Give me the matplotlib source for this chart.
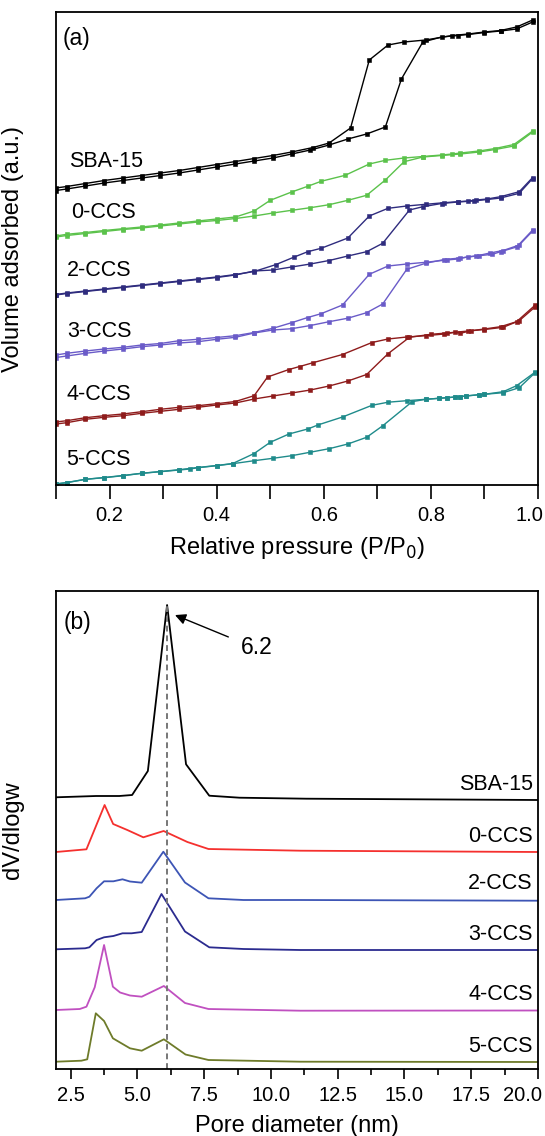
import matplotlib
matplotlib.use('Agg')
import matplotlib.pyplot as plt
from matplotlib.transforms import ScaledTranslation
import numpy as np

plt.rcParams['font.family'] = ['Liberation Sans', 'DejaVu Sans']

# ---------- (a) N2 isotherms, volume in arbitrary units ----------
sba_ads_p = [0.10, 0.12, 0.155, 0.19, 0.225, 0.26, 0.295, 0.33, 0.365, 0.40, 0.435, 0.47, 0.505, 0.54,
             0.575, 0.61, 0.645, 0.68, 0.715, 0.745, 0.785, 0.82, 0.85, 0.87, 0.90, 0.93, 0.96, 0.99]
sba_ads_v = [294.5, 296, 299, 302, 304.5, 307, 309.5, 312, 315, 318, 321, 324, 327, 331,
             335, 340, 346, 351, 358, 406, 443, 448, 449.5, 450.5, 452.5, 454, 456, 463]
sba_des_p = [0.99, 0.96, 0.93, 0.90, 0.87, 0.84, 0.79, 0.75, 0.72, 0.685, 0.65, 0.61, 0.58, 0.54,
             0.505, 0.47, 0.435, 0.40, 0.365, 0.33, 0.295, 0.26, 0.225, 0.19, 0.155, 0.12, 0.10]
sba_des_v = [465, 458, 454.5, 453, 451, 449.5, 445, 443, 440, 425, 357, 342, 337.5, 333,
             329.5, 326.5, 323.5, 320.5, 317.5, 314.5, 312, 309.5, 307, 304.5, 301.5, 298.5, 297]

c0_ads_p = [0.10, 0.12, 0.155, 0.19, 0.225, 0.26, 0.295, 0.33, 0.365, 0.40, 0.435, 0.47, 0.505, 0.54,
            0.575, 0.61, 0.645, 0.68, 0.715, 0.75, 0.785, 0.82, 0.855, 0.89, 0.92, 0.955, 0.99]
c0_ads_v = [248, 249.5, 251.5, 253.5, 255.5, 257, 259, 261, 263, 264.5, 266.5, 269, 272, 274.7,
            277.3, 280.3, 284.7, 289.7, 305, 323.3, 328, 329.5, 331, 333, 335.5, 339, 353]
c0_des_p = [0.99, 0.955, 0.92, 0.89, 0.855, 0.84, 0.82, 0.785, 0.75, 0.715, 0.685, 0.64, 0.595, 0.57,
            0.54, 0.50, 0.47, 0.435, 0.40, 0.365, 0.33, 0.295, 0.26, 0.225, 0.19, 0.155, 0.12, 0.10]
c0_des_v = [354, 340.5, 336.5, 334, 332, 331, 330, 328.5, 327, 324.7, 321, 309.7, 303.7, 298.7,
            293, 284.7, 274, 268, 266, 264, 262, 260, 258, 256.3, 254.5, 252.5, 250.7, 249]

c2_ads_p = [0.10, 0.12, 0.155, 0.19, 0.225, 0.26, 0.295, 0.33, 0.365, 0.40, 0.435, 0.47, 0.505, 0.54,
            0.575, 0.61, 0.645, 0.68, 0.71, 0.76, 0.785, 0.82, 0.85, 0.88, 0.905, 0.93, 0.965, 0.99]
c2_ads_v = [190, 191.5, 193.5, 195.5, 197.5, 199.5, 201.5, 203.5, 205.5, 207.5, 210, 214, 215, 218,
            221, 224.5, 229, 233.3, 241.7, 275, 278.3, 281.5, 283, 284, 285.5, 287, 291.7, 306.5]
c2_des_p = [0.99, 0.965, 0.93, 0.905, 0.885, 0.87, 0.85, 0.825, 0.79, 0.755, 0.72, 0.685, 0.645, 0.595,
            0.57, 0.545, 0.51, 0.47, 0.435, 0.40, 0.365, 0.33, 0.295, 0.26, 0.225, 0.19, 0.155, 0.12, 0.10]
c2_des_v = [307.5, 293.3, 288.3, 286, 285, 284, 283.3, 282.3, 280.7, 279, 276.7, 269, 247, 236.7,
            233.3, 228, 220.3, 213.5, 210.5, 208, 206, 204, 202, 200, 198, 196, 194, 192, 190.5]

c3_ads_p = [0.10, 0.12, 0.155, 0.19, 0.225, 0.26, 0.295, 0.33, 0.365, 0.40, 0.435, 0.47, 0.505, 0.54,
            0.575, 0.61, 0.645, 0.68, 0.71, 0.755, 0.79, 0.825, 0.855, 0.885, 0.91, 0.935, 0.965, 0.99]
c3_ads_v = [127.5, 129, 131.7, 134, 136, 138.3, 140, 142, 143.3, 145.7, 147.7, 152, 155, 156.3,
            159.5, 163.3, 166.8, 172.3, 181, 215.7, 221.7, 225.5, 227, 229, 232, 234.5, 240, 254]
c3_des_p = [0.99, 0.96, 0.93, 0.915, 0.89, 0.87, 0.85, 0.83, 0.79, 0.755, 0.72, 0.685, 0.635, 0.595,
            0.57, 0.54, 0.505, 0.47, 0.435, 0.40, 0.365, 0.33, 0.295, 0.26, 0.225, 0.19, 0.155, 0.12, 0.10]
c3_des_v = [255, 238, 233.3, 230.7, 229.3, 228.3, 226, 225, 222.7, 221, 219, 210.7, 180, 171.3,
            167.5, 162.3, 156.7, 152.5, 149.3, 147.5, 145.7, 144.3, 141.5, 140, 137.7, 136, 134, 131.7, 130]

c4_ads_p = [0.10, 0.12, 0.155, 0.19, 0.225, 0.26, 0.295, 0.33, 0.365, 0.40, 0.435, 0.47, 0.505, 0.54,
            0.575, 0.61, 0.645, 0.68, 0.72, 0.76, 0.80, 0.83, 0.87, 0.90, 0.935, 0.965, 0.995]
c4_ads_v = [61, 62.3, 65.7, 67.7, 69.3, 71.7, 73.7, 75.7, 77.7, 80, 82, 86, 89, 92,
            95, 99, 104, 110.5, 131.3, 147.7, 150.7, 152, 154, 155.5, 157.7, 164.3, 178.3]
c4_des_p = [0.995, 0.96, 0.93, 0.90, 0.875, 0.855, 0.845, 0.825, 0.79, 0.755, 0.72, 0.69, 0.635, 0.58,
            0.555, 0.535, 0.495, 0.47, 0.435, 0.40, 0.365, 0.33, 0.295, 0.26, 0.225, 0.19, 0.155, 0.12, 0.10]
c4_des_v = [180, 163.3, 158.3, 156, 154.3, 151.7, 152.7, 151, 149.3, 148, 146, 142.5, 130.5, 122.3,
            118.5, 115.5, 108, 89.3, 83.5, 81.3, 79.3, 77.7, 75.7, 73.3, 71, 69.3, 67.3, 64.3, 63]

c5_ads_p = [0.10, 0.12, 0.155, 0.19, 0.225, 0.26, 0.295, 0.33, 0.35, 0.365, 0.40, 0.43, 0.47, 0.505,
            0.54, 0.575, 0.61, 0.645, 0.68, 0.71, 0.765, 0.79, 0.815, 0.83, 0.845, 0.855, 0.865, 0.89,
            0.90, 0.935, 0.965, 0.995]
c5_ads_v = [1, 2.3, 5.7, 7.3, 9.3, 11.7, 13.3, 15, 16, 17.3, 19.3, 21.3, 24.3, 26.7,
            29.3, 32.8, 36.3, 41, 47.7, 59.2, 83.3, 85.7, 86.7, 87.3, 88, 88.3, 89, 90.3,
            90.7, 92.3, 97.3, 112.5]
c5_des_p = [0.995, 0.96, 0.935, 0.90, 0.89, 0.865, 0.855, 0.845, 0.83, 0.815, 0.79, 0.755, 0.72, 0.69,
            0.635, 0.59, 0.57, 0.535, 0.50, 0.47, 0.43, 0.40, 0.365, 0.33, 0.295, 0.26, 0.225, 0.19,
            0.155, 0.12, 0.10]
c5_des_v = [113, 99.3, 93.3, 90.7, 90.3, 89, 88.3, 88, 87.3, 86.7, 85.7, 84.3, 82.8, 79.7,
            68, 60.2, 56, 51, 42.7, 31.5, 21.5, 19.5, 17.5, 15.3, 13.5, 11.7, 9.5, 7.5,
            5.7, 2.5, 1]

iso_names = ['SBA-15', '0-CCS', '2-CCS', '3-CCS', '4-CCS', '5-CCS']
iso_colors = ['#000000', '#5bc24b', '#2f2c7e', '#6a5bc8', '#8e1b1b', '#1f8b8b']
iso_label_p = [0.125, 0.129, 0.121, 0.121, 0.119, 0.119]
iso_label_v = [318, 267, 209, 148, 85, 20]

# ---------- (b) pore size distributions ----------
sba_d = [1.95, 3.45, 4.32, 4.80, 5.39, 6.11, 6.82, 7.69, 8.82, 11.32, 20.0]
sba_dv = [271.7, 273, 273, 274, 298, 464, 304.7, 273.3, 271.3, 270.3, 269]
c0_d = [1.95, 3.09, 3.77, 4.09, 4.62, 5.22, 5.98, 6.87, 7.66, 11.1, 20.0]
c0_dv = [217, 219.7, 264, 245, 239, 231.7, 238, 227, 220, 218.3, 217]
c2_d = [1.95, 3.04, 3.20, 3.47, 3.75, 4.10, 4.44, 4.72, 5.16, 5.97, 6.78, 7.66, 8.97, 11.1, 20.0]
c2_dv = [169, 170.7, 172.3, 180.7, 187.7, 187.7, 189.7, 187.5, 186.3, 217.3, 186.5, 170.7, 169, 169, 168.3]
c3_d = [1.95, 3.04, 3.20, 3.47, 3.75, 4.10, 4.44, 4.78, 5.16, 5.90, 6.78, 7.69, 8.97, 11.1, 20.0]
c3_dv = [119.7, 120.7, 121.7, 129, 131.7, 133, 135.7, 135.7, 137, 175, 137.5, 121.7, 120, 119, 119]
c4_d = [1.95, 2.84, 3.09, 3.40, 3.75, 4.08, 4.35, 4.72, 5.16, 5.99, 6.78, 7.66, 11.1, 20.0]
c4_dv = [59, 60, 62.3, 81.7, 124, 82.3, 76.5, 73.5, 72.3, 83, 66, 60, 58.3, 58.5]
c5_d = [1.95, 2.90, 3.12, 3.44, 3.75, 4.08, 4.72, 5.16, 5.99, 6.80, 7.66, 11.1, 20.0]
c5_dv = [7.3, 8.3, 9.7, 55.7, 48, 30.7, 20.7, 18.3, 29.7, 14.5, 9, 7.3, 7]

psd_colors = ['#000000', '#f5302e', '#3d55b5', '#2b2b8f', '#c050c0', '#6e7b2a']
psd_label_v = [279, 227, 180, 129, 69, 17]

fig = plt.figure(figsize=(5.45, 11.36), dpi=100)
W, H = 545.0, 1136.0
ax1 = fig.add_axes([56 / W, 1 - 485 / H, 482 / W, 473 / H])
ax2 = fig.add_axes([56 / W, 1 - 1069 / H, 482 / W, 478 / H])

isotherms = [(sba_ads_p, sba_ads_v, sba_des_p, sba_des_v),
             (c0_ads_p, c0_ads_v, c0_des_p, c0_des_v),
             (c2_ads_p, c2_ads_v, c2_des_p, c2_des_v),
             (c3_ads_p, c3_ads_v, c3_des_p, c3_des_v),
             (c4_ads_p, c4_ads_v, c4_des_p, c4_des_v),
             (c5_ads_p, c5_ads_v, c5_des_p, c5_des_v)]

for (ap, av, dp, dv), col, name, lp, lv in zip(isotherms, iso_colors, iso_names, iso_label_p, iso_label_v):
    for px, py in ((ap, av), (dp, dv)):
        ax1.plot(px, py, '-s', color=col, lw=1.0, ms=3.2, mec=col, mew=0.4)
    ax1.text(lp, lv, name, fontsize=15.5, ha='left', va='baseline')

ax1.set_xlim(0.1, 1.0)
ax1.set_ylim(0, 473)
ax1.set_xticks(np.arange(0.2, 1.01, 0.2))
ax1.set_xticks(np.arange(0.1, 1.01, 0.1), minor=True)
ax1.xaxis.set_major_formatter(plt.FormatStrFormatter('%.1f'))
ax1.set_yticks([])
ax1.set_xlabel('Relative pressure (P/P$_0$)', fontsize=17, labelpad=7)
ax1.set_ylabel('Volume adsorbed (a.u.)', fontsize=17)
ax1.text(0.0145, 0.968, '(a)', transform=ax1.transAxes, fontsize=16.5, va='top')
ax1.tick_params(axis='x', which='both', direction='out', length=10, width=1.2)
ax1.tick_params(axis='x', which='major', labelsize=14.5, pad=5)

psd = [(sba_d, sba_dv), (c0_d, c0_dv), (c2_d, c2_dv), (c3_d, c3_dv), (c4_d, c4_dv), (c5_d, c5_dv)]
for (d, v), col, name, lv in zip(psd, psd_colors, iso_names, psd_label_v):
    ax2.plot(d, v, '-', color=col, lw=1.3)
    ax2.text(19.8, lv, name, fontsize=15.5, ha='right', va='baseline')

# dashed marker at the SBA-15 maximum
i_max = int(np.argmax(sba_dv))
peak_d, peak_v = sba_d[i_max], sba_dv[i_max]
ax2.vlines(peak_d, 0, peak_v, colors='#777777', linestyles=(0, (3, 2)), lw=1.4)
ax2.annotate('', xy=(peak_d + 0.2, peak_v - 9), xytext=(8.5, 431),
             arrowprops=dict(arrowstyle='-|>', color='k', lw=1.0, mutation_scale=16))
ax2.text(9.48, 421.5, '6.2', fontsize=16.5, ha='center', va='center')
ax2.text(0.0166, 0.958, '(b)', transform=ax2.transAxes, fontsize=16.5, va='top')

ax2.set_xlim(1.95, 20)
ax2.set_ylim(0, 478)
ax2.set_xticks(np.arange(2.5, 20.01, 2.5))
ax2.set_xticks(np.arange(2.5, 20.01, 1.25), minor=True)
ax2.xaxis.set_major_formatter(plt.FormatStrFormatter('%.1f'))
ax2.set_yticks([])
ax2.set_xlabel('Pore diameter (nm)', fontsize=17, labelpad=7)
ax2.set_ylabel('dV/dlogw', fontsize=17)
ax2.tick_params(axis='x', which='major', direction='out', length=7.5, width=1.2, labelsize=14.5, pad=5)
ax2.tick_params(axis='x', which='minor', direction='out', length=4.5, width=1.2)

for ax in (ax1, ax2):
    for s in ax.spines.values():
        s.set_linewidth(1.3)
    ax.yaxis.set_label_coords(-0.066, 0.5)

# the last tick labels sit inside the figure edge, as in the original
fig.canvas.draw()
for ax, shift in ((ax1, -9), (ax2, -16)):
    lab = ax.get_xticklabels()[-1]
    lab.set_transform(lab.get_transform() + ScaledTranslation(shift / 100, 0, fig.dpi_scale_trans))

fig.savefig('out.png', dpi=100)
